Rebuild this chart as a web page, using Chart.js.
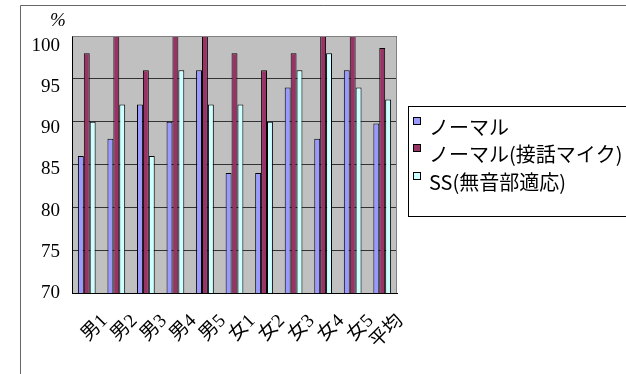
<!DOCTYPE html>
<html>
<head>
<meta charset="utf-8">
<script src="https://cdn.jsdelivr.net/npm/chart.js@4/dist/chart.umd.min.js"></script>
<style>
  html, body { margin: 0; padding: 0; background: #fff; }
  canvas { display: block; }
</style>
</head>
<body>
<canvas id="c" width="626" height="374"></canvas>
<script>
// Speakers and the overall average
const categories = ['男1', '男2', '男3', '男4', '男5', '女1', '女2', '女3', '女4', '女5', '平均'];

// Recognition rate (%) per condition
const normal      = [86, 88, 92, 90, 96, 84, 84, 94, 88, 96, 89.8];
const normalClose = [98, 100, 96, 100, 100, 98, 96, 98, 100, 100, 98.6];
const ssSilence   = [90, 92, 86, 96, 92, 92, 90, 96, 98, 94, 92.6];

const seriesNames = ['ノーマル', 'ノーマル(接話マイク)', 'SS(無音部適応)'];

// Value axis range and step
const yMin = 70;
const yMax = 100;
const yStep = 5;
const yUnit = '%';

const colors = ['#9999FF', '#993366', '#CCFFFF'];

// Frame, plot fill, unit mark and legend box
const decorations = {
  id: 'decorations',
  beforeDraw(chart) {
    const { ctx, chartArea: a } = chart;
    ctx.save();
    ctx.fillStyle = '#C0C0C0';
    ctx.fillRect(a.left, a.top, a.right - a.left, a.bottom - a.top);
    ctx.restore();
  },
  afterDraw(chart) {
    const { ctx, chartArea: a } = chart;
    ctx.save();
    // plot border
    ctx.strokeStyle = '#808080';
    ctx.lineWidth = 1;
    ctx.beginPath();
    ctx.moveTo(a.left + 0.5, a.top + 0.5);
    ctx.lineTo(a.right - 0.5, a.top + 0.5);
    ctx.lineTo(a.right - 0.5, a.bottom);
    ctx.stroke();

    // outer chart frame
    ctx.strokeStyle = '#666';
    ctx.beginPath();
    ctx.moveTo(20.5, 374);
    ctx.lineTo(20.5, 5.5);
    ctx.lineTo(626, 5.5);
    ctx.stroke();

    // unit mark above the value axis
    ctx.fillStyle = '#000';
    ctx.font = 'italic 19px "Liberation Serif"';
    ctx.textAlign = 'center';
    ctx.textBaseline = 'middle';
    ctx.fillText(yUnit, 58, 21);

    // legend
    ctx.strokeStyle = '#000';
    ctx.fillStyle = '#fff';
    ctx.fillRect(408.5, 106.5, 300, 110);
    ctx.strokeRect(408.5, 106.5, 300, 110);
    const rows = [121, 148, 176];
    ctx.font = '20px "Noto Sans CJK JP"';
    ctx.textAlign = 'left';
    chart.data.datasets.forEach((ds, i) => {
      ctx.fillStyle = ds.backgroundColor;
      ctx.fillRect(413.5, rows[i] - 3.5, 7, 7);
      ctx.strokeStyle = '#000';
      ctx.strokeRect(413.5, rows[i] - 3.5, 7, 7);
      ctx.fillStyle = '#000';
      ctx.fillText(ds.label, 429, rows[i] + 6);
    });
    ctx.restore();
  }
};

new Chart(document.getElementById('c'), {
  type: 'bar',
  data: {
    labels: categories,
    datasets: [normal, normalClose, ssSilence].map((d, i) => ({
      label: seriesNames[i],
      data: d,
      backgroundColor: colors[i],
      borderColor: '#000',
      borderWidth: 1,
      categoryPercentage: 0.6,
      barPercentage: 1.0
    }))
  },
  options: {
    responsive: false,
    animation: false,
    devicePixelRatio: 1,
    layout: { padding: { left: 0, top: 36, right: 229, bottom: 0 } },
    plugins: {
      legend: { display: false },
      tooltip: { enabled: false }
    },
    scales: {
      x: {
        grid: { display: false },
        border: { display: true, color: '#000', width: 1 },
        ticks: {
          color: '#000',
          font: { family: '"Liberation Serif", "Noto Sans CJK JP"', size: 19 },
          minRotation: 45,
          maxRotation: 45,
          autoSkip: false,
          labelOffset: 18,
          padding: 9
        },
        afterFit(scale) { scale.height = 81; }
      },
      // value axis: gridlines and axis line
      y: {
        min: yMin,
        max: yMax,
        weight: 0,
        ticks: { stepSize: yStep, display: false },
        grid: { color: '#333', lineWidth: 1, drawTicks: false },
        border: { display: true, color: '#000', width: 1 },
        afterFit(scale) { scale.width = 0; }
      },
      // value axis labels, spaced slightly tighter than the gridlines
      yLabels: {
        position: 'left',
        weight: 1,
        min: yMin,
        max: yMin + (yMax - yMin) * 1.04,
        afterBuildTicks(scale) {
          scale.ticks = scale.ticks.filter(t => t.value <= yMax + 1e-6);
        },
        ticks: {
          stepSize: yStep,
          includeBounds: false,
          color: '#000',
          font: { family: '"Liberation Serif"', size: 19 },
          padding: 12
        },
        grid: { display: false, drawTicks: false },
        border: { display: false },
        afterFit(scale) { scale.width = 72; }
      }
    }
  },
  plugins: [decorations]
});
</script>
</body>
</html>
